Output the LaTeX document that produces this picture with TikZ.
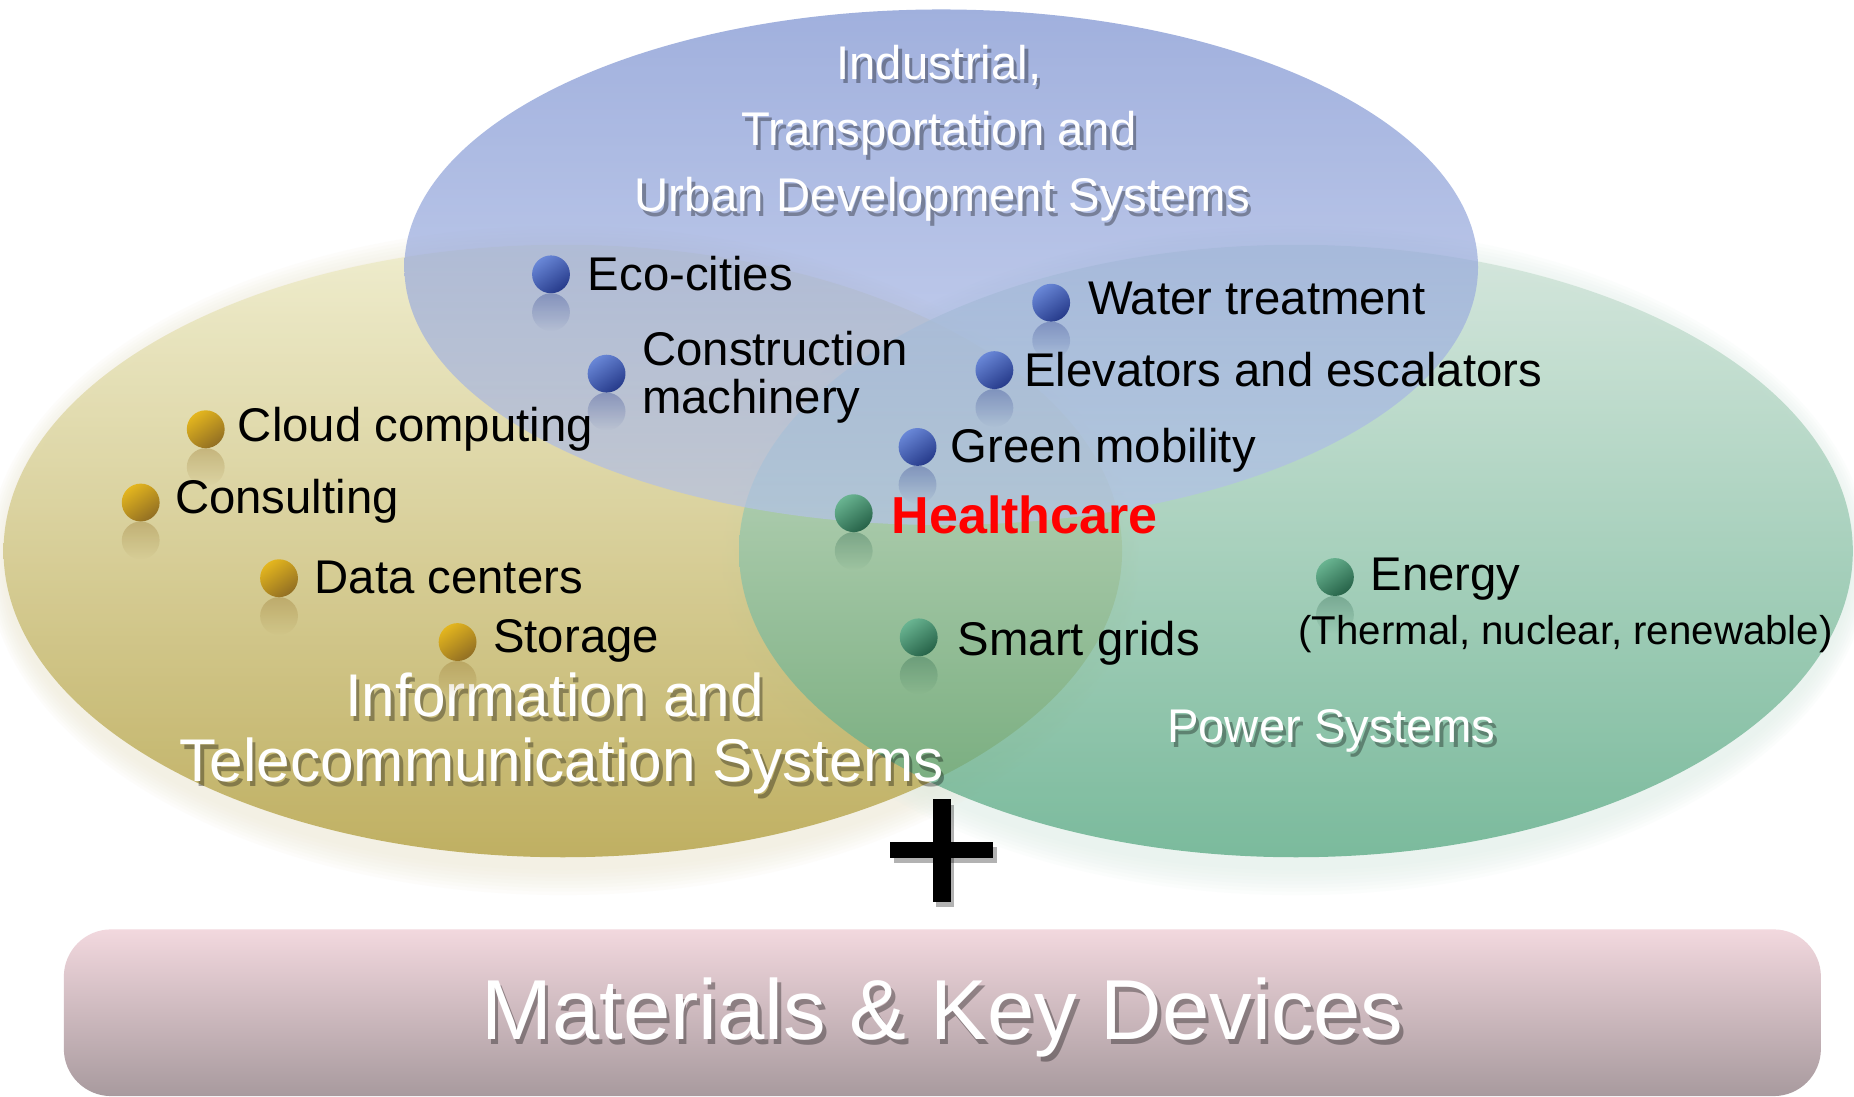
\documentclass[tikz,border=0pt]{standalone}
\usepackage{fontspec}
\setmainfont{Liberation Sans}
\usetikzlibrary{fadings,calc}
\definecolor{bluetop}{RGB}{112,136,204}
\definecolor{bluebot}{RGB}{182,195,236}
\definecolor{yeltop}{RGB}{238,236,200}
\definecolor{yelbot}{RGB}{179,160,66}
\definecolor{grntop}{RGB}{205,226,214}
\definecolor{grnbot}{RGB}{80,165,125}
\definecolor{boxtop}{RGB}{242,216,222}
\definecolor{boxbot}{RGB}{168,154,158}
\definecolor{bbl}{RGB}{105,135,215}
\definecolor{bbd}{RGB}{38,58,138}
\definecolor{gbl}{RGB}{228,182,30}
\definecolor{gbd}{RGB}{145,110,35}
\definecolor{nbl}{RGB}{105,180,145}
\definecolor{nbd}{RGB}{38,98,72}
\tikzfading[name=reflfade, top color=transparent!40, bottom color=transparent!100]
\tikzset{
  item/.style={anchor=base west, inner sep=0pt, text=black, font=\fontsize{40}{44}\selectfont},
  wlbl/.style={anchor=base, inner sep=0pt, text=white},
  slbl/.style={anchor=base, inner sep=0pt, text=black, opacity=0.33},
  ballb/.style={circle, inner sep=0pt, minimum size=32pt, top color=bbl, bottom color=bbd, shading angle=35},
  ballg/.style={circle, inner sep=0pt, minimum size=32pt, top color=gbl, bottom color=gbd, shading angle=35},
  balln/.style={circle, inner sep=0pt, minimum size=32pt, top color=nbl, bottom color=nbd, shading angle=35},
}
\newcommand\refl[2]{\fill[#2, path fading=reflfade, opacity=0.55] ($(#1)+(0,32)$) circle (16);}
\newcommand\wtext[5]{% name, x, y, size, text
  \node[slbl, font=\fontsize{#4}{#4}\selectfont] (#1s) at (#2+3,#3+4) {#5};
  \node[wlbl, font=\fontsize{#4}{#4}\selectfont] (#1) at (#2,#3) {#5};}
\begin{document}
\begin{tikzpicture}[x=1pt,y=-1pt]
\useasboundingbox (0,0) rectangle (1568,927);
\fill[white] (0,0) rectangle (1568,927);
% soft glows
\foreach \k in {1,...,8}{
  \fill[yelbot!22!white, opacity=0.10] (476,474) ellipse [x radius=471+2*\k, y radius=259+3*\k];
  \fill[grnbot!18!white, opacity=0.10] (1096,474) ellipse [x radius=469+2*\k, y radius=259+3*\k];
}
% ellipses
\shade[top color=yeltop, bottom color=yelbot, opacity=0.80] (476,466) ellipse [x radius=473, y radius=259];
\shade[top color=grntop, bottom color=grnbot, opacity=0.72] (1096,466) ellipse [x radius=471, y radius=259];
\shade[top color=bluetop, bottom color=bluebot, opacity=0.66] (796,226) ellipse [x radius=454, y radius=218];
% bottom box
\shade[top color=boxtop, bottom color=boxbot, rounded corners=40pt] (54,786) rectangle (1540,927);
% plus
\fill[black, opacity=0.3] (792,681) rectangle (807,767);
\fill[black, opacity=0.3] (756,716) rectangle (843,730);
\fill[black] (789,676) rectangle (804,763);
\fill[black] (753,712) rectangle (840,726);
% white headings
\wtext{t1}{794}{67}{40}{Industrial,}
\wtext{t2}{794}{123}{40}{Transportation and}
\wtext{t3}{797}{179}{40}{Urban Development Systems}
\wtext{y1}{469}{606}{51}{Information and}
\wtext{y2}{475}{661}{51}{Telecommunication Systems}
\wtext{p1}{1126}{628}{40}{Power Systems}
\wtext{m1}{797}{879}{72}{Materials \& Key Devices}
% bullets: blue
\refl{466,232}{bbd}\node[ballb] (b1) at (466,232) {};
\node[item] (l1) at (497,246) {Eco-cities};
\refl{513,316}{bbd}\node[ballb] (b2) at (513,316) {};
\node[item] (l2) at (543,309) {Construction};
\node[item] (l2b) at (543,350) {machinery};
\refl{889,256}{bbd}\node[ballb] (b3) at (889,256) {};
\node[item] (l3) at (920,266) {Water treatment};
\refl{841,313}{bbd}\node[ballb] (b4) at (841,313) {};
\node[item] (l4) at (866,327) {Elevators and escalators};
\refl{776,378}{bbd}\node[ballb] (b5) at (776,378) {};
\node[item] (l5) at (804,391) {Green mobility};
% green
\refl{722,434}{nbd}\node[balln] (b6) at (722,434) {};
\node[item, text={rgb,255:red,255;green,0;blue,0}, font=\bfseries\fontsize{44}{48}\selectfont] (l6) at (754,451) {Healthcare};
\refl{777,539}{nbd}\node[balln] (b7) at (777,539) {};
\node[item] (l7) at (810,554) {Smart grids};
\refl{1129,488}{nbd}\node[balln] (b8) at (1129,488) {};
\node[item] (l8) at (1159,499) {Energy};
\node[item, font=\fontsize{34}{38}\selectfont] (l8b) at (1098,545) {(Thermal, nuclear, renewable)};
% gold
\refl{174,363}{gbd}\node[ballg] (b9) at (174,363) {};
\node[item] (l9) at (201,373) {Cloud computing};
\refl{119,425}{gbd}\node[ballg] (b10) at (119,425) {};
\node[item] (l10) at (148,434) {Consulting};
\refl{236,489}{gbd}\node[ballg] (b11) at (236,489) {};
\node[item] (l11) at (266,502) {Data centers};
\refl{387,543}{gbd}\node[ballg] (b12) at (387,543) {};
\node[item] (l12) at (417,552) {Storage};
\end{tikzpicture}
\end{document}
